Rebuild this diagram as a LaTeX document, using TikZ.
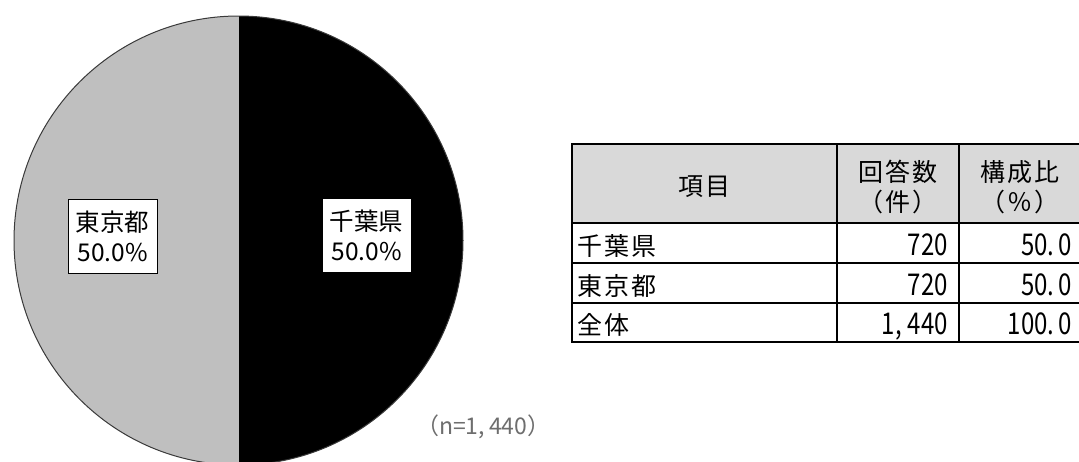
\documentclass[tikz,border=0pt]{standalone}
\usepackage{fontspec}
\setmainfont{Noto Sans CJK JP}
\definecolor{piegray}{HTML}{BFBFBF}
\definecolor{headgray}{HTML}{D9D9D9}
\definecolor{notegray}{HTML}{6E6E6E}
\definecolor{pieedge}{HTML}{3A3A3A}
\begin{document}
\begin{tikzpicture}[x=1pt,y=-1pt,
  pielabel/.style={draw=black,line width=1pt,fill=white,minimum width=89pt,minimum height=74pt,inner sep=0pt,align=center,font=\fontsize{24.5}{30}\selectfont},
  tline/.style={line width=2pt,black},
  thead/.style={inner sep=0pt,align=center,font=\fontsize{25}{30}\selectfont\addfontfeature{LetterSpace=8}},
  tcell/.style={inner sep=0pt,font=\fontsize{25}{28}\selectfont\addfontfeature{LetterSpace=8}},
  tnum/.style={inner sep=0pt,anchor=base east,font=\fontsize{30}{30}\selectfont\addfontfeature{FakeStretch=0.8}},
  note/.style={inner sep=0pt,text=notegray,font=\fontsize{23}{26}\selectfont}]
\fill[white] (0,0) rectangle (1079,461);
\useasboundingbox (0,0) rectangle (1079,461);
% pie
\coordinate (c) at (238.5,240.5);
\begin{scope}
  \clip (c) circle[radius=224.5];
  \fill[piegray] (0,0) rectangle (238.5,480);
  \fill[black] (238.5,0) rectangle (480,480);
\end{scope}
\draw[pieedge,line width=1pt] (c) circle[radius=224.5];
\node[pielabel] (tokyo) at (112.5,236) {東京都\\50.0\%};
\node[pielabel] (chiba) at (366.5,235.5) {千葉県\\50.0\%};
\node[note,anchor=west] (n) at (416,427) {（n=1,\kern4pt 440）};
% table
\coordinate (t00) at (571.5,144);
\coordinate (t34) at (1081,342);
\fill[headgray] (t00) rectangle (1081,222.7);
\draw[tline] (t00) rectangle (t34);
\draw[tline] (571.5,222.7) -- (1081,222.7);
\draw[tline] (571.5,262.7) -- (1081,262.7);
\draw[tline] (571.5,302.7) -- (1081,302.7);
\draw[tline] (837,144) -- (837,342);
\draw[tline] (959,144) -- (959,342);
\node[thead] (h1) at (704,187) {項目};
\node[thead] (h2) at (898,187) {回答数\\（件）};
\node[thead] (h3) at (1020,187) {構成比\\（％）};
\node[tcell,anchor=base west] (r1) at (577,255) {千葉県};
\node[tcell,anchor=base west] (r2) at (577,295) {東京都};
\node[tcell,anchor=base west] (r3) at (577,334) {全体};
\node[tnum] (n1) at (948,255) {720};
\node[tnum] (n2) at (948,295) {720};
\node[tnum] (n3) at (948,334) {1,\kern6pt 440};
\node[tnum] (p1) at (1072,255) {50.\kern4pt 0};
\node[tnum] (p2) at (1072,295) {50.\kern4pt 0};
\node[tnum] (p3) at (1072,334) {100.\kern4pt 0};
\end{tikzpicture}
\end{document}
